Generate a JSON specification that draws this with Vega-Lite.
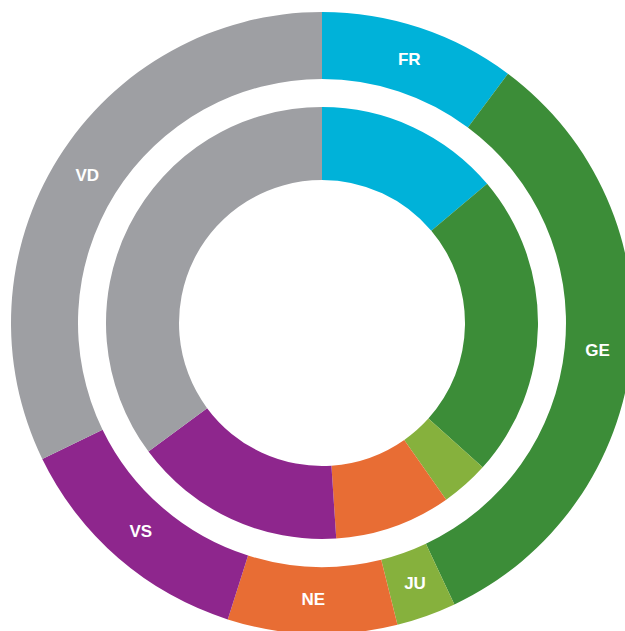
{
  "$schema": "https://vega.github.io/schema/vega-lite/v6.json",
  "description": "Double donut chart of six Swiss cantons.",
  "autosize": {"type": "fit", "contains": "padding"},
  "padding": 0,
  "width": 625,
  "height": 631,
  "config": {"background": "white", "view": {"stroke": null}},
  "datasets": {
    "outer": [
      {"canton": "FR", "rank": 1, "share": 10.2},
      {"canton": "GE", "rank": 2, "share": 32.8},
      {"canton": "JU", "rank": 3, "share": 3.1},
      {"canton": "NE", "rank": 4, "share": 8.8},
      {"canton": "VS", "rank": 5, "share": 12.9},
      {"canton": "VD", "rank": 6, "share": 32.2}
    ],
    "inner": [
      {"canton": "FR", "rank": 1, "share": 13.85},
      {"canton": "GE", "rank": 2, "share": 22.8},
      {"canton": "JU", "rank": 3, "share": 3.6},
      {"canton": "NE", "rank": 4, "share": 8.7},
      {"canton": "VS", "rank": 5, "share": 15.9},
      {"canton": "VD", "rank": 6, "share": 35.15}
    ]
  },
  "encoding": {
    "theta": {"field": "share", "type": "quantitative", "stack": true},
    "order": {"field": "rank", "type": "quantitative"},
    "color": {
      "field": "canton",
      "type": "nominal",
      "legend": null,
      "scale": {
        "domain": ["FR", "GE", "JU", "NE", "VS", "VD"],
        "range": ["#00b2d9", "#3c8d38", "#86b13d", "#e86d34", "#8e268d", "#9e9fa3"]
      }
    }
  },
  "layer": [
    {
      "data": {"name": "outer"},
      "mark": {"type": "arc", "x": 322, "y": 323, "innerRadius": 244, "outerRadius": 311}
    },
    {
      "data": {"name": "inner"},
      "mark": {"type": "arc", "x": 322, "y": 323, "innerRadius": 143, "outerRadius": 216}
    },
    {
      "data": {"name": "outer"},
      "mark": {
        "type": "text",
        "x": 322,
        "y": 323,
        "radius": 277,
        "font": "Liberation Sans",
        "fontWeight": "bold",
        "fontSize": 17,
        "align": "center",
        "baseline": "middle"
      },
      "encoding": {
        "text": {"field": "canton", "type": "nominal"},
        "color": {"value": "white"}
      }
    }
  ]
}
